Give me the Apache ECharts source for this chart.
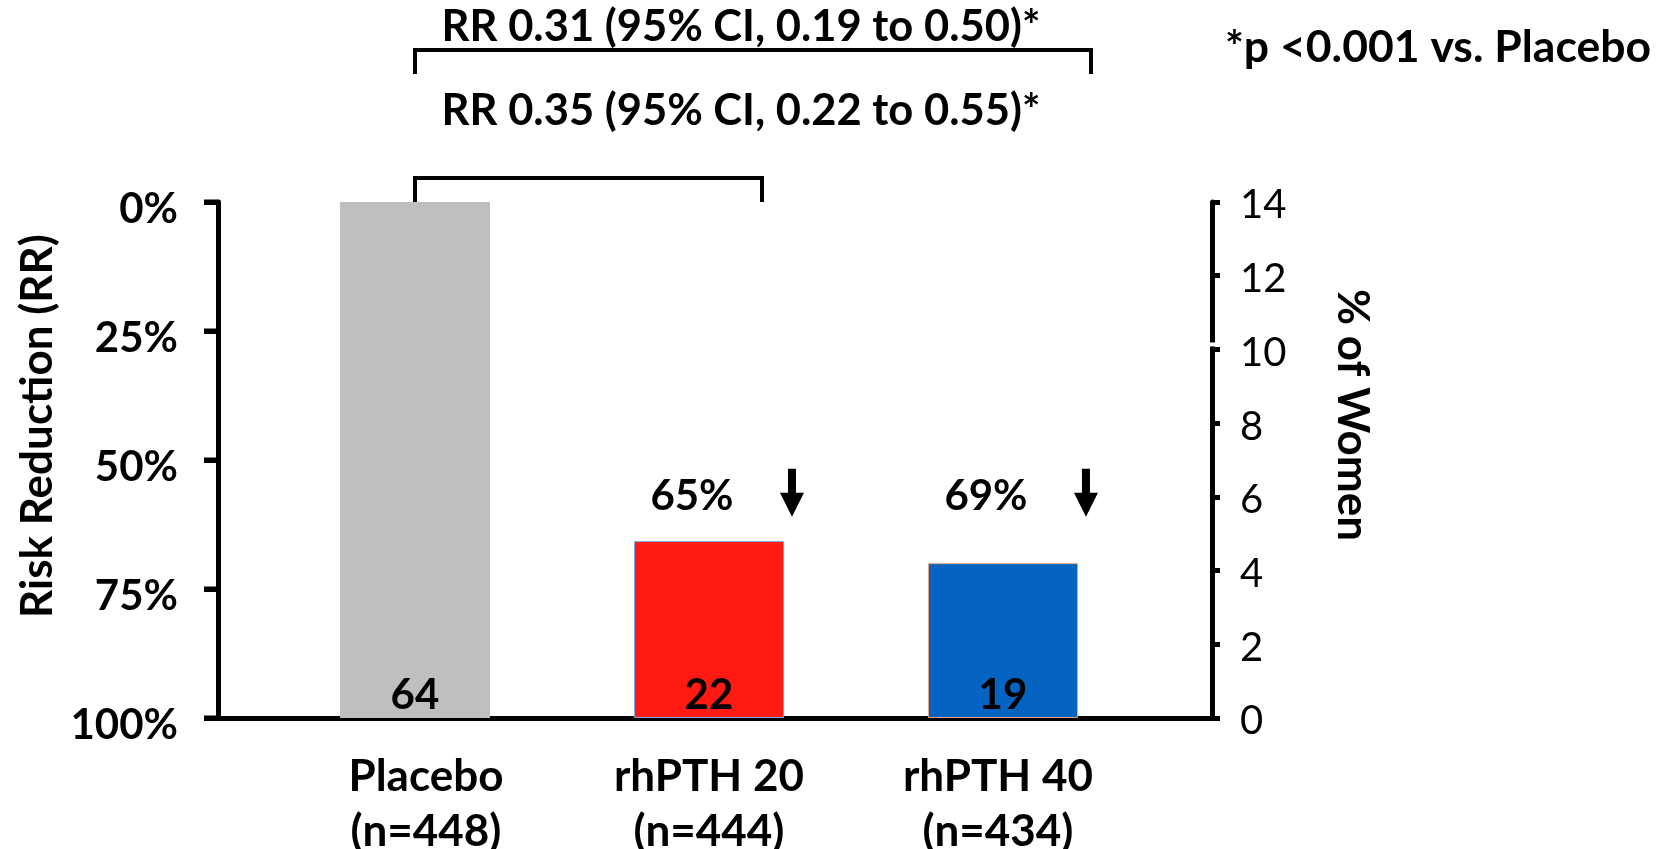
<!DOCTYPE html>
<html><head><meta charset="utf-8">
<script src="https://cdn.jsdelivr.net/npm/echarts@6/dist/echarts.min.js"></script>
<style>html,body{margin:0;padding:0;background:#fff}#c{width:1665px;height:849px}</style>
</head><body><div id="c"></div>
<script>
// ---- data ----
const categories = ['Placebo', 'rhPTH 20', 'rhPTH 40'];
const sampleSizes = ['n=448', 'n=444', 'n=434'];
const pctWomen = [14, 4.8, 4.2];
const fractureCounts = [64, 22, 19];
const riskReductionLabels = ['', '65%', '69%'];
const leftTickValues = [0, 25, 50, 75, 100];
const rightTickValues = [0, 2, 4, 6, 8, 10, 12, 14];
const rrNotes = ['RR 0.31 (95% CI, 0.19 to 0.50)*', 'RR 0.35 (95% CI, 0.22 to 0.55)*'];
const pNote = '*p <0.001 vs. Placebo';

// ---- styles ----
const FONT = 'Lato, "Open Sans", sans-serif';
const barColors = ['#BFBFBF', '#FF1A14', '#0563C1'];
const barBorders = ['#BFBFBF', '#7FA8DA', '#E8A07C'];
const catLabelPad = [[0, 0, 0, 22], [0, 0, 0, 0], [0, 10, 0, 0]];
const annotationLevel = 6;
const arrowPath = 'path://M8,0 L16,0 L16,24 L24,24 L12,48 L0,24 L8,24 Z';

// category k sits at x = k + SLOT0 on the value x-axis (axis starts at 0)
const SLOT0 = 0.67;
const slot = i => i + SLOT0;
const slotIndex = v => Math.round(v - SLOT0);
const chart = echarts.init(document.getElementById('c'));
const annoData = riskReductionLabels.map((t, i) => [slot(i), annotationLevel]).filter((d, i) => riskReductionLabels[i]);
const catRich = {};
categories.forEach((c, i) => {
  catRich['c' + i] = { fontFamily: FONT, fontWeight: 'bold', fontSize: 44, lineHeight: 55, color: '#000', padding: catLabelPad[i] };
});
const option = {
  backgroundColor: '#fff',
  animation: false,
  grid: { left: 218, right: 453, top: 202, bottom: 131, containLabel: false, outerBoundsMode: 'none' },
  xAxis: {
    type: 'value', min: 0, max: 3.381,
    axisLine: { show: true, onZero: false, lineStyle: { color: '#000', width: 5 } },
    axisTick: { show: false },
    splitLine: { show: false },
    axisLabel: {
      customValues: categories.map((c, i) => slot(i)),
      margin: 31,
      formatter: v => { const i = slotIndex(v); return '{c' + i + '|' + categories[i] + '}\n{c' + i + '|(' + sampleSizes[i] + ')}'; },
      rich: catRich
    }
  },
  yAxis: [{
    type: 'value', position: 'left', inverse: true, min: 0, max: 100, interval: 25,
    axisLine: { show: true, onZero: true, lineStyle: { color: '#000', width: 5 } },
    axisTick: { show: true, length: 14, lineStyle: { color: '#000', width: 5 } },
    splitLine: { show: false },
    axisLabel: {
      margin: 40,
      formatter: v => '{v|' + v + '%}',
      rich: { v: { fontFamily: FONT, fontWeight: 'bold', fontSize: 42, color: '#000', padding: [15, 0, 0, 0] } }
    },
    name: 'Risk Reduction (RR)', nameLocation: 'middle', nameRotate: 90, nameGap: 156,
    nameTextStyle: { fontFamily: FONT, fontWeight: 'bold', fontSize: 44, color: '#000', padding: [0, 0, 0, 68] }
  }, {
    type: 'value', position: 'right', min: 0, max: 14, interval: 2,
    axisLine: { show: true, onZero: false, lineStyle: { color: '#000', width: 5 } },
    axisTick: { show: true, length: 8, lineStyle: { color: '#000', width: 5 } },
    splitLine: { show: false },
    axisLabel: {
      margin: 28,
      formatter: v => '{v|' + v + '}',
      rich: { v: { fontFamily: FONT, fontSize: 40, color: '#000', padding: [7, 0, 0, 0] } }
    },
    name: '% of Women', nameLocation: 'middle', nameRotate: -90, nameGap: 118,
    nameTextStyle: { fontFamily: FONT, fontWeight: 'bold', fontSize: 44, color: '#000', padding: [0, 90, 0, 0] }
  }],
  series: [{
    type: 'bar', xAxisIndex: 0, yAxisIndex: 1, barWidth: 150,
    data: pctWomen.map((v, i) => ({ value: [slot(i), v], itemStyle: { color: barColors[i], borderColor: barBorders[i], borderWidth: 1 } })),
    label: {
      show: true, position: 'insideBottom', distance: 2,
      formatter: p => String(fractureCounts[p.dataIndex]),
      fontFamily: FONT, fontWeight: 'bold', fontSize: 42, color: '#000'
    }
  }, {
    type: 'scatter', xAxisIndex: 0, yAxisIndex: 1, symbolSize: 1, silent: true,
    itemStyle: { color: 'rgba(0,0,0,0)', opacity: 1 },
    data: annoData,
    label: {
      show: true, position: 'inside', offset: [-17, 0],
      formatter: p => riskReductionLabels[slotIndex(p.value[0])],
      fontFamily: FONT, fontWeight: 'bold', fontSize: 42, color: '#000'
    }
  }, {
    type: 'scatter', xAxisIndex: 0, yAxisIndex: 1, silent: true,
    symbol: arrowPath, symbolSize: [24, 48], symbolOffset: [83, -4], symbolKeepAspect: false,
    itemStyle: { color: '#000', opacity: 1 },
    data: annoData
  }]
};
chart.setOption(option);

const y10 = chart.convertToPixel({ yAxisIndex: 1 }, 10);
const xL = chart.convertToPixel({ xAxisIndex: 0 }, option.xAxis.min);
const xR = chart.convertToPixel({ xAxisIndex: 0 }, option.xAxis.max);
const txt = (s, x, y, size) => ({
  type: 'text', x: x, y: y,
  style: { text: s, fill: '#000', font: 'bold ' + size + 'px ' + FONT, textAlign: 'center', textVerticalAlign: 'middle', align: 'center', verticalAlign: 'middle' }
});
// left-axis tick marks, placed through the axis scale
const leftTicks = leftTickValues.map(v => {
  const y = chart.convertToPixel({ yAxisIndex: 0 }, v);
  return { type: 'line', shape: { x1: xL - 14, y1: y, x2: xL, y2: y }, style: { stroke: '#000', lineWidth: 5 }, z: 50 };
});
chart.setOption({
  graphic: [
    txt(rrNotes[0], 741, 27, 43.5),
    txt(rrNotes[1], 741, 111, 43.5),
    txt(pNote, 1438, 48, 44.5),
    { type: 'polyline', shape: { points: [[415, 74], [415, 50], [1091, 50], [1091, 74]] }, style: { stroke: '#000', lineWidth: 4, fill: null } },
    { type: 'polyline', shape: { points: [[415, 202], [415, 178], [762, 178], [762, 202]] }, style: { stroke: '#000', lineWidth: 4, fill: null } },
    { type: 'rect', shape: { x: xR - 4, y: y10 - 7, width: 8, height: 4 }, style: { fill: '#fff' }, z: 100 }
  ].concat(leftTicks)
});
</script>
</body></html>
